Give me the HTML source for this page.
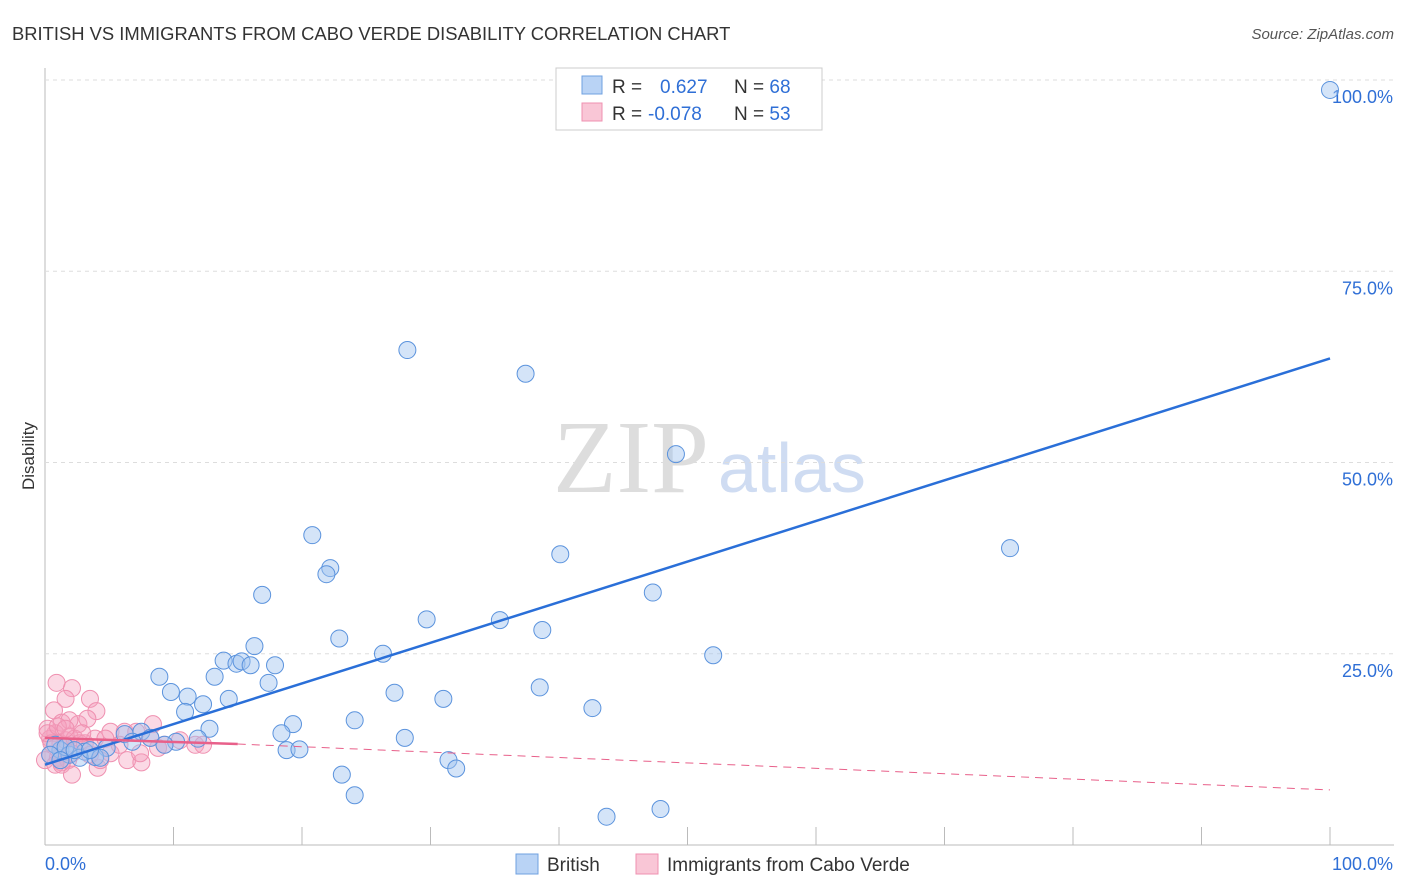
<!DOCTYPE html>
<html><head><meta charset="utf-8"><style>
body{margin:0;background:#fff;font-family:"Liberation Sans",sans-serif;}
#c{position:relative;width:1406px;height:892px;overflow:hidden}
</style></head><body>
<div id="c">
<svg id="s" width="1406" height="892">
<text x="12" y="40" font-size="18.4" fill="#333">BRITISH VS IMMIGRANTS FROM CABO VERDE DISABILITY CORRELATION CHART</text>
<text x="1394" y="39" font-size="15" fill="#555" font-style="italic" text-anchor="end">Source: ZipAtlas.com</text>
<text x="34" y="456" font-size="17" fill="#333" transform="rotate(-90 34 456)" text-anchor="middle">Disability</text>
<text x="553" y="492" font-size="104" fill="#ddd" font-family="Liberation Serif">ZIP</text>
<text x="718" y="492" font-size="70" fill="#cfdcf2">atlas</text>
<g id="grid"></g><g id="pts"></g><g id="lines"></g>
<g>
<rect x="556" y="68" width="266" height="62" fill="#fff" stroke="#ccc"/>
<rect x="582" y="76" width="20" height="18" fill="#b9d3f5" stroke="#6fa0e0"/>
<rect x="582" y="103" width="20" height="18" fill="#f9c6d6" stroke="#ef90b0"/>
<text x="612" y="93" font-size="19" fill="#333">R = <tspan fill="#2f6fd6" x="660">0.627</tspan><tspan fill="#333" x="734">N = </tspan><tspan fill="#2f6fd6">68</tspan></text>
<text x="612" y="120" font-size="19" fill="#333">R = <tspan fill="#2f6fd6" x="648">-0.078</tspan><tspan fill="#333" x="734">N = </tspan><tspan fill="#2f6fd6">53</tspan></text>
</g>
<g>
<rect x="516" y="854" width="22" height="20" fill="#b9d3f5" stroke="#6fa0e0"/>
<text x="547" y="871" font-size="19" fill="#333">British</text>
<rect x="636" y="854" width="22" height="20" fill="#f9c6d6" stroke="#ef90b0"/>
<text x="667" y="871" font-size="19" fill="#333">Immigrants from Cabo Verde</text>
</g>
<text x="45" y="870" font-size="18" fill="#2f6fd6">0.0%</text>
<text x="1393" y="870" font-size="18" fill="#2f6fd6" text-anchor="end">100.0%</text>
</svg>
</div>
<script>
const yTicks=[25,50,75,100];
const yTickLabels=["25.0%","50.0%","75.0%","100.0%"];
const britishX=[100,28.2,37.4,49.1,20.8,22.2,21.9,40.1,75.1,16.9,47.3,29.7,35.4,38.7,22.9,16.3,26.3,52,8.9,13.9,14.9,15.3,16,17.9,17.4,13.2,9.8,11.1,14.3,12.3,10.9,27.2,31,38.5,42.6,24.1,19.3,12.8,18.4,28,7.5,6.2,8.2,10.2,11.9,9.3,6.8,4.8,18.8,19.8,31.4,32,23.1,24.1,43.7,47.9,1.2,1.9,3.1,3.9,4.3,2.7,0.8,1.6,2.3,3.5,0.4,1.2];
const britishY=[98.7,64.7,61.6,51.1,40.5,36.2,35.4,38,38.8,32.7,33,29.5,29.4,28.1,27,26,25,24.8,22,24.1,23.7,24,23.5,23.5,21.2,22,20,19.4,19.1,18.4,17.4,19.9,19.1,20.6,17.9,16.3,15.8,15.2,14.6,14,14.8,14.5,14,13.5,13.9,13.1,13.5,12.7,12.4,12.5,11.1,10,9.2,6.5,3.7,4.7,12.4,11.8,12.2,11.5,11.4,11.4,13.1,12.8,12.4,12.4,11.8,11.1];
const caboX=[0.9,2.1,3.5,1.6,0.7,4,1.3,2.6,1.9,3.3,5.1,6.2,8.4,7.1,0.4,0.8,1.2,1.6,1.9,2.3,2.7,0.4,1,1.3,1.8,2.1,3.1,3.9,4.7,0.2,0.5,0,0.8,1.3,2.1,4.1,6.4,7.5,8.8,9.3,10.5,11.7,12.3,7.4,5.1,3.5,4.3,0.2,1,1.6,2.9,5.8,8.2];
const caboY=[21.2,20.5,19.1,19.1,17.6,17.5,16,15.8,16.3,16.5,14.8,14.8,15.8,14.8,13.9,14.6,13.3,13.7,14.2,13.9,13.3,11.8,11.4,10.8,11.1,12,13.3,13.9,13.9,15.2,13.3,11.1,10.5,10.5,9.2,10.1,11.1,10.8,12.7,13.1,13.7,13.1,13.1,12,12,11.8,11.1,14.6,15.5,15.2,14.6,13.1,14];
const X=v=>45+v*12.85, Y=v=>845-v*7.65;
const NS="http://www.w3.org/2000/svg";
function mk(t,a,p){const e=document.createElementNS(NS,t);for(const k in a)e.setAttribute(k,a[k]);p.appendChild(e);return e;}
const grid=document.getElementById('grid');
mk('line',{x1:45,y1:68,x2:45,y2:845,stroke:'#bbb'},grid);
mk('line',{x1:45,y1:845,x2:1394,y2:845,stroke:'#bbb'},grid);
for(let i=1;i<=10;i++){mk('line',{x1:X(i*10),y1:827,x2:X(i*10),y2:845,stroke:'#bbb'},grid);}
yTicks.forEach((t,i)=>{
const l=mk('line',{x1:45,y1:Y(t),x2:1394,y2:Y(t),stroke:'#ddd','stroke-dasharray':'4,4'},grid);


const tx=mk('text',{x:1393,y:Y(t)+23,'font-size':18,fill:'#2f6fd6','text-anchor':'end'},grid);
tx.textContent=yTickLabels[i];


});
const pts=document.getElementById('pts');
caboX.forEach((v,i)=>{const c=mk('circle',{cx:X(v),cy:Y(caboY[i]),r:8.5,fill:'rgba(245,160,190,0.4)',stroke:'#ef90b0','stroke-width':1},pts);

});
britishX.forEach((v,i)=>{const c=mk('circle',{cx:X(v),cy:Y(britishY[i]),r:8.5,fill:'rgba(160,195,240,0.45)',stroke:'#5b93dd','stroke-width':1},pts);

});
const ln=document.getElementById('lines');
const b=mk('line',{x1:X(0),y1:Y(10.5),x2:X(100),y2:Y(63.6),stroke:'#2a6fd8','stroke-width':2.5},ln);


const p1=mk('line',{x1:X(0),y1:Y(14),x2:X(15),y2:Y(13.2),stroke:'#e8608a','stroke-width':2.5},ln);


const p2=mk('line',{x1:X(15),y1:Y(13.2),x2:X(100),y2:Y(7.2),stroke:'#e8608a','stroke-width':1,'stroke-dasharray':'8,6'},ln);


</script>
</body></html>
